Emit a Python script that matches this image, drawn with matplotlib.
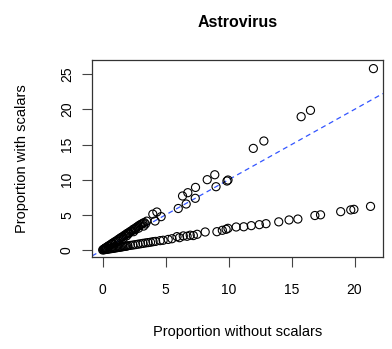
import numpy as np
import matplotlib.pyplot as plt

plt.rcParams['font.family'] = ['Liberation Sans', 'DejaVu Sans']

# upper branch (proportion with scalars roughly > without)
up_x = [0.0, 0.05, 0.1, 0.15, 0.2, 0.25, 0.3, 0.4, 0.45, 0.5, 0.6, 0.7, 0.75, 0.8,
        0.9, 1.0, 1.1, 1.2, 1.3, 1.4, 1.5, 1.6, 1.7, 1.8, 1.9, 2.0, 2.1, 2.2, 2.3,
        2.4, 2.5, 2.6, 2.7, 2.8, 2.9, 3.0, 3.1, 3.2, 3.3, 3.5, 3.98, 4.16, 4.3,
        4.64, 6.0, 6.34, 6.63, 6.76, 7.35, 7.37, 8.3, 8.9, 9.0, 9.87, 9.95,
        11.96, 12.8, 15.76, 16.5, 21.5,
        1.25, 1.65, 2.05, 2.45, 2.85, 3.25, 1.9, 2.6, 3.4]
up_y = [0.0, 0.07, 0.12, 0.2, 0.25, 0.3, 0.38, 0.5, 0.52, 0.62, 0.72, 0.85, 0.9, 0.95,
        1.1, 1.2, 1.3, 1.45, 1.55, 1.7, 1.8, 1.9, 2.05, 2.15, 2.3, 2.4, 2.5, 2.65, 2.7,
        2.9, 3.0, 3.1, 3.25, 3.35, 3.5, 3.6, 3.7, 3.8, 3.9, 4.1, 5.1, 4.12, 5.4,
        4.74, 5.9, 7.68, 6.54, 8.15, 7.35, 8.9, 10.0, 10.7, 9.0, 9.81, 9.95,
        14.45, 15.5, 18.96, 19.86, 25.8,
        1.25, 1.7, 2.3, 2.6, 3.1, 3.4, 2.0, 2.9, 3.7]

# lower branch (proportion with scalars well below without)
lo_x = [0.1, 0.2, 0.3, 0.4, 0.5, 0.6, 0.7, 0.8, 0.9, 1.0, 1.1, 1.2, 1.3, 1.4, 1.5,
        1.6, 1.7, 1.8, 1.9, 2.0, 2.2, 2.4, 2.6, 2.8, 3.0, 3.2, 3.4, 3.6, 3.8, 4.0,
        4.2, 4.56, 4.8, 5.2, 5.5, 5.9, 6.1, 6.4, 6.7, 6.95, 7.2, 7.5, 8.14, 9.07,
        9.5, 9.8, 9.95, 10.6, 11.2, 11.8, 12.44, 12.97, 13.98, 14.8, 15.5,
        16.85, 17.3, 18.9, 19.7, 19.95, 21.27]
lo_y = [0.03, 0.06, 0.09, 0.12, 0.15, 0.18, 0.2, 0.23, 0.26, 0.3, 0.32, 0.35, 0.38,
        0.41, 0.44, 0.47, 0.5, 0.53, 0.56, 0.6, 0.65, 0.7, 0.76, 0.82, 0.88, 0.94,
        1.0, 1.05, 1.1, 1.18, 1.22, 1.33, 1.38, 1.5, 1.6, 1.9, 1.75, 2.0, 1.95, 2.1,
        2.05, 2.23, 2.56, 2.6, 2.8, 2.94, 3.08, 3.27, 3.3, 3.46, 3.6, 3.74, 4.0,
        4.27, 4.4, 4.9, 5.0, 5.45, 5.7, 5.78, 6.2]

fig = plt.figure(figsize=(3.92, 3.49), dpi=100)
ax = fig.add_axes([0.2347, 0.2636, 0.742, 0.564])

ax.scatter(up_x, up_y, s=34, facecolors='none', edgecolors='black', linewidths=0.8, zorder=3)
ax.scatter(lo_x, lo_y, s=34, facecolors='none', edgecolors='black', linewidths=0.8, zorder=3)

ax.set_xlim(-0.85, 22.25)
ax.set_ylim(-1.0, 27.0)
ax.axline((0, 0), slope=1, color='#3355ff', linestyle=(0, (4, 3)), linewidth=0.9, zorder=2)

ax.set_xticks([0, 5, 10, 15, 20])
ax.set_yticks([0, 5, 10, 15, 20, 25])
ax.tick_params(direction='out', length=7, width=0.8, color='#444444', labelsize=10, pad=12)
ax.tick_params(axis='y', pad=6)
plt.setp(ax.get_yticklabels(), rotation=90, va='center')
for s in ax.spines.values():
    s.set_linewidth(0.9)
    s.set_color('#333333')

ax.set_title('Astrovirus', fontsize=11.5, fontweight='bold', pad=24)
ax.set_xlabel('Proportion without scalars', fontsize=10.5, labelpad=20)
ax.set_ylabel('Proportion with scalars', fontsize=10.5, labelpad=22)

fig.savefig('out.png', dpi=100)
